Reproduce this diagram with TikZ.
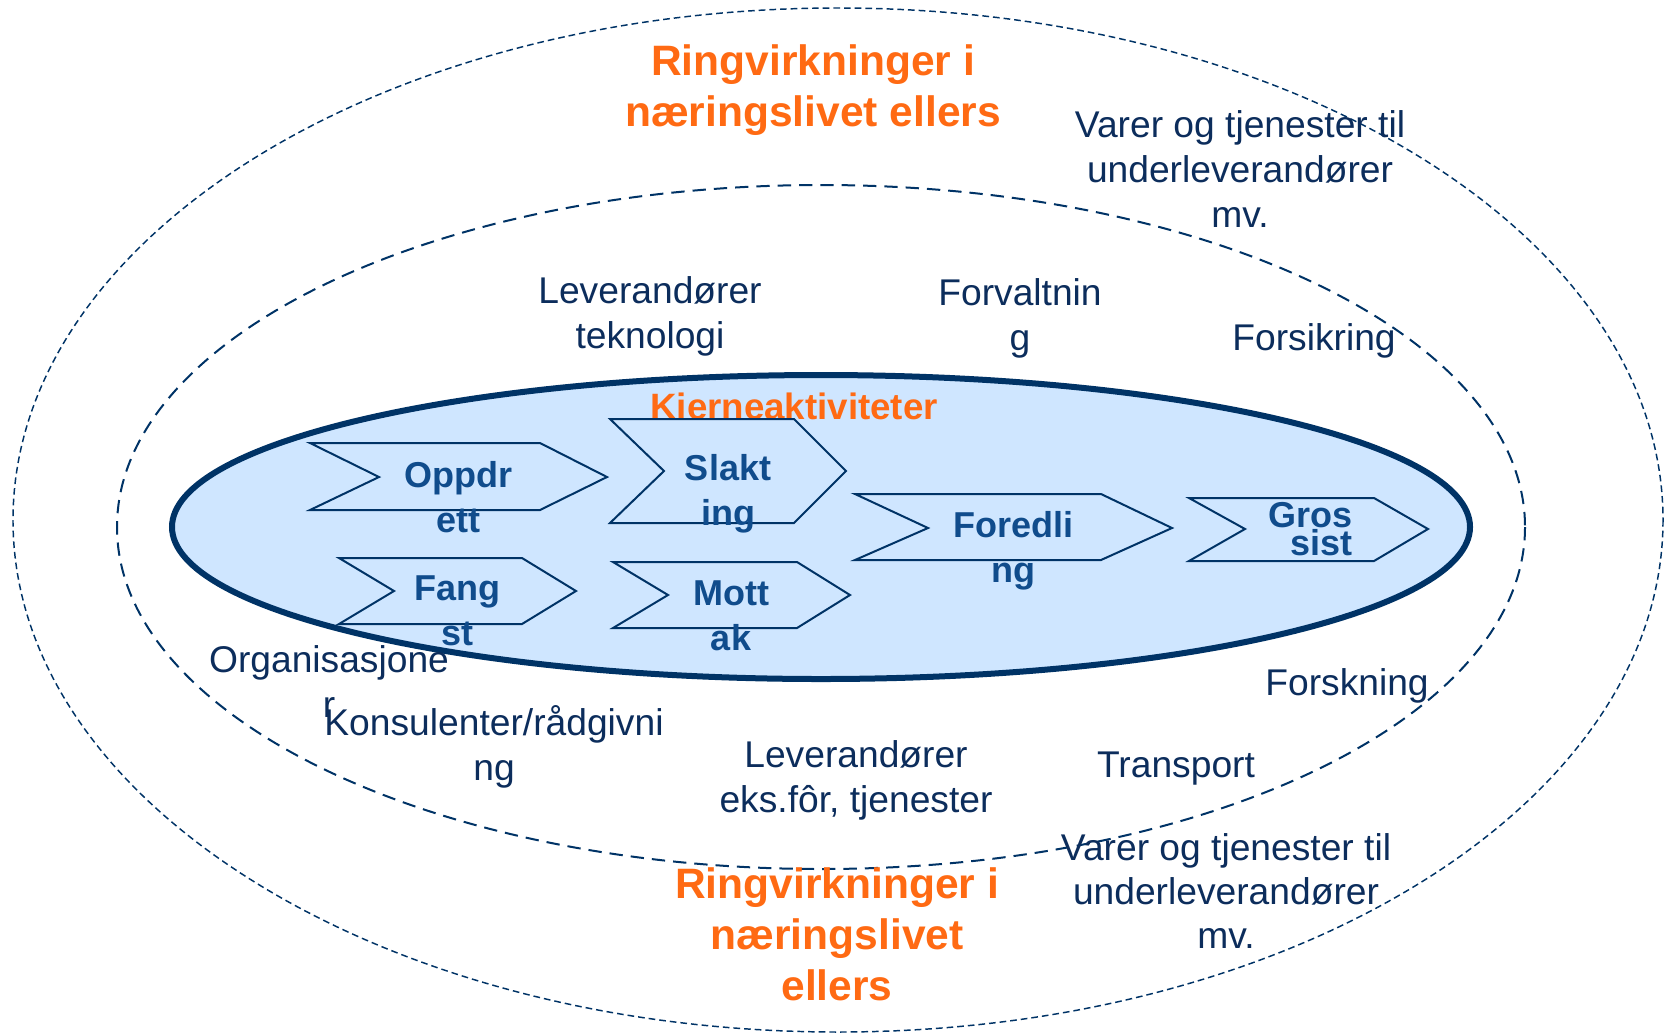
\documentclass[tikz,border=0pt]{standalone}
\usepackage{fontspec}
\setmainfont{Liberation Sans}
\definecolor{navyline}{RGB}{0,51,102}
\definecolor{coreblue}{RGB}{207,230,255}
\definecolor{chevtext}{RGB}{16,76,140}
\definecolor{labeltext}{RGB}{12,45,92}
\definecolor{ringorange}{RGB}{255,106,19}

\begin{document}
\begin{tikzpicture}[x=0.75pt,y=0.75pt,yscale=-1,
  chev/.style={draw=navyline,fill=coreblue,line width=1.5},
  chevlbl/.style={inner sep=0pt,anchor=base,align=center,text=chevtext,font=\bfseries\fontsize{27}{33.75}\selectfont},
  lbl/.style={inner sep=0pt,anchor=base,align=center,text=labeltext,font=\fontsize{27.9}{33.75}\selectfont},
  ringlbl/.style={inner sep=0pt,anchor=base,align=center,text=ringorange,font=\bfseries\fontsize{31.9}{38.25}\selectfont}]
\useasboundingbox (0,0) rectangle (1665,1033);

%Shape: Ellipse [outer ring]
\draw [navyline,line width=1.1,dash pattern=on 5pt off 3pt]  (838,520) ellipse [x radius=825, y radius=512];
%Shape: Ellipse [middle ring]
\draw [navyline,line width=1.5,dash pattern=on 10pt off 6pt]  (821,527) ellipse [x radius=704, y radius=342];
%Shape: Ellipse [core]
\draw [navyline,fill=coreblue,line width=4.5]  (821,527) ellipse [x radius=649, y radius=152];

% Text Node
\node [ringlbl,font=\bfseries\fontsize{27.5}{33.75}\selectfont] (kjerne) at (794,419) {Kjerneaktiviteter};

%Shape: Chevron [Oppdrett]
\draw [chev]  (310,443) -- (540,443) -- (607,477) -- (540,510) -- (310,510) -- (379,477) -- cycle ;
%Shape: Chevron [Slakting]
\draw [chev]  (610,419) -- (794,419) -- (846,471) -- (794,523) -- (610,523) -- (664,471) -- cycle ;
%Shape: Chevron [Fangst]
\draw [chev]  (339,558) -- (522,558) -- (576,591) -- (522,624) -- (339,624) -- (394,591) -- cycle ;
%Shape: Chevron [Mottak]
\draw [chev]  (613,562) -- (797,562) -- (850,595) -- (797,628) -- (613,628) -- (668,595) -- cycle ;
%Shape: Chevron [Foredling]
\draw [chev]  (855,494) -- (1101,494) -- (1172,528) -- (1101,560) -- (855,560) -- (928,528) -- cycle ;
%Shape: Chevron [Grossist]
\draw [chev]  (1189,498) -- (1374,498) -- (1428,529) -- (1374,561) -- (1189,561) -- (1245,529) -- cycle ;

% Text Node
\node [chevlbl] (oppdr) at (458,532) {Oppdr\\ett};
% Text Node
\node [chevlbl] (slakt) at (728,525) {Slakt\\ing};
% Text Node
\node [chevlbl] (fang) at (457,645) {Fang\\st};
% Text Node
\node [chevlbl] (mott) at (731,650) {Mott\\ak};
% Text Node
\node [chevlbl] (foredl) at (1013,582) {Foredli\\ng};
% Text Node
\node [chevlbl,anchor=base east,align=right,font=\bfseries\fontsize{27}{16.5}\selectfont] (gros) at (1353,555) {Gros\\sist};

% Text Node
\node [ringlbl] (ringtop) at (813,126) {Ringvirkninger i\\næringslivet ellers};
% Text Node
\node [ringlbl] (ringbot) at (837,1000) {Ringvirkninger i\\næringslivet\\ellers};

% Text Node
\node [lbl] (varertop) at (1240,227) {Varer og tjenester til\\underleverandører\\mv.};
% Text Node
\node [lbl] (levtek) at (650,348) {Leverandører\\teknologi};
% Text Node
\node [lbl] (forvalt) at (1020,350) {Forvaltnin\\g};
% Text Node
\node [lbl] (forsikr) at (1314,350) {Forsikring};
% Text Node
\node [lbl] (organ) at (329,717) {Organisasjone\\r};
% Text Node
\node [lbl] (konsul) at (494,780) {Konsulenter/rådgivni\\ng};
% Text Node
\node [lbl] (levfor) at (856,812) {Leverandører\\eks.fôr, tjenester};
% Text Node
\node [lbl] (transp) at (1176,777) {Transport};
% Text Node
\node [lbl] (forskn) at (1347,695) {Forskning};
% Text Node
\node [lbl,font=\fontsize{27.9}{33}\selectfont] (varerbot) at (1226,948) {Varer og tjenester til\\underleverandører\\mv.};

\end{tikzpicture}
\end{document}
